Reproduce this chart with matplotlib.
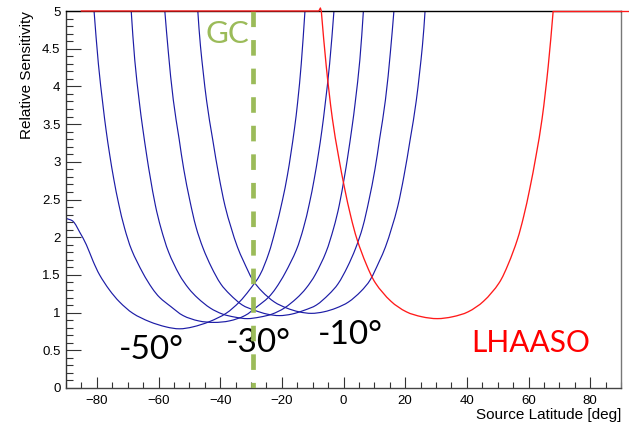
import matplotlib
matplotlib.use("Agg")
import matplotlib.pyplot as plt
import numpy as np
from matplotlib import ticker
from matplotlib.path import Path
from matplotlib.patches import PathPatch

# relative sensitivity vs source latitude, one curve per detector latitude
lat_m50_x = [-90, -87.7, -85.6, -83.4, -81.2, -79.1, -75.9, -72.6, -68.3, -62.9, -57.5, -53.2,
             -48.9, -43.5, -38.1, -33.8, -30.5, -27.1, -24.3, -22.2, -19.8, -18.2, -17.1, -15.9, -14.9, -13.7, -12.5]
lat_m50_y = [2.25, 2.21, 2.07, 1.90, 1.68, 1.50, 1.30, 1.14, 0.99, 0.88, 0.81, 0.785,
             0.81, 0.88, 0.99, 1.14, 1.30, 1.50, 1.78, 2.08, 2.49, 2.82, 3.10, 3.44, 3.78, 4.30, 5.0]

lat_m40_x = [-80.9, -79.5, -77.95, -77.0, -75.85, -74.5, -72.9, -71.0, -68.7, -65.0, -62.0, -59.6, -56.0, -52.0, -47.0,
             -42.0, -37.0, -32.0, -28.0, -24.4, -22.0, -19.0, -15.3, -13.0, -11.1, -9.5, -8.15, -7.0, -6.05, -4.5, -3.1]
lat_m40_y = [5.0, 4.30, 3.73, 3.42, 3.10, 2.77, 2.44, 2.12, 1.83, 1.52, 1.32, 1.20, 1.08, 0.96, 0.89,
             0.87, 0.89, 0.96, 1.08, 1.20, 1.32, 1.52, 1.83, 2.12, 2.44, 2.77, 3.10, 3.42, 3.73, 4.30, 5.0]

lat_m30_x = [-68.85, -67.7, -66.15, -65.2, -63.7, -62.7, -61.0, -59.2, -56.7, -53.2, -50.2, -47.2, -43.2, -39.2, -35.2,
             -31.2, -27.2, -23.2, -19.2, -15.2, -12.2, -9.2, -5.7, -3.2, -1.4, 0.3, 1.3, 2.8, 3.75, 5.3, 6.45]
lat_m30_y = [5.0, 4.35, 3.77, 3.47, 3.05, 2.80, 2.42, 2.12, 1.80, 1.50, 1.32, 1.19, 1.06, 0.98, 0.94,
             0.92, 0.94, 0.98, 1.06, 1.19, 1.32, 1.50, 1.80, 2.12, 2.42, 2.80, 3.05, 3.47, 3.77, 4.35, 5.0]

lat_m20_x = [-57.95, -56.8, -55.2, -53.3, -51.8, -49.8, -47.8, -45.5, -42.8, -39.8, -36.8, -32.8, -28.8, -24.8,
             -20.8, -16.8, -12.8, -8.8, -4.8, -1.8, 1.2, 3.9, 6.2, 8.2, 10.2, 11.7, 13.6, 15.2, 16.35]
lat_m20_y = [5.0, 4.45, 3.82, 3.30, 2.90, 2.48, 2.13, 1.85, 1.60, 1.38, 1.24, 1.10, 1.03, 0.98,
             0.96, 0.98, 1.03, 1.10, 1.24, 1.38, 1.60, 1.85, 2.13, 2.48, 2.90, 3.30, 3.82, 4.45, 5.0]

lat_m10_x = [-47.25, -46.4, -44.4, -42.4, -40.4, -38.4, -36.4, -34.4, -32.4, -29.4, -26.4, -22.4, -18.4, -14.4,
             -10.4, -6.4, -2.4, 1.6, 5.6, 8.6, 11.6, 13.6, 15.6, 17.6, 19.6, 21.6, 23.6, 25.6, 26.45]
lat_m10_y = [5.0, 4.54, 3.81, 3.29, 2.81, 2.41, 2.12, 1.87, 1.68, 1.43, 1.28, 1.14, 1.06, 1.01,
             0.99, 1.01, 1.06, 1.14, 1.28, 1.43, 1.68, 1.87, 2.12, 2.41, 2.81, 3.29, 3.81, 4.54, 5.0]

# LHAASO curve, plus the saturated parts at the top of the frame
lhaaso_x = [-7.2, -5.6, -3.6, -1.6, 0.4, 2.4, 4.4, 7.4, 10.4, 15.4, 20.4, 25.4, 30.4,
            35.4, 40.4, 45.4, 50.4, 53.4, 56.4, 58.4, 60.4, 62.4, 64.4, 66.4, 68.0]
lhaaso_y = [5.0, 4.27, 3.57, 3.07, 2.64, 2.27, 1.97, 1.64, 1.39, 1.15, 1.01, 0.945, 0.92,
            0.945, 1.01, 1.15, 1.39, 1.64, 1.97, 2.27, 2.64, 3.07, 3.57, 4.27, 5.0]
lhaaso_flat_left_x = [-85, -8.0, -7.5, -7.2]
lhaaso_flat_left_y = [5.0, 5.0, 5.04, 5.0]
lhaaso_flat_right_x = [68.0, 92.3]
lhaaso_flat_right_y = [5.0, 5.0]

gc_lat = -29.2

blue_curves = [(lat_m50_x, lat_m50_y), (lat_m40_x, lat_m40_y), (lat_m30_x, lat_m30_y),
               (lat_m20_x, lat_m20_y), (lat_m10_x, lat_m10_y)]


def smooth_path(xs, ys):
    # bezier path through the points, tangents from chord length (in pixel-ish units)
    p = np.column_stack([xs, ys]).astype(float)
    d = np.hypot(np.diff(p[:, 0]) * 3.085, np.diff(p[:, 1]) * 75.4)
    t = np.concatenate([[0], np.cumsum(d)])
    n = len(p)
    m = np.zeros_like(p)
    m[0] = (p[1] - p[0]) / (t[1] - t[0])
    m[-1] = (p[-1] - p[-2]) / (t[-1] - t[-2])
    for i in range(1, n - 1):
        m[i] = (p[i + 1] - p[i - 1]) / (t[i + 1] - t[i - 1])
    verts = [p[0]]
    codes = [Path.MOVETO]
    for i in range(n - 1):
        h = t[i + 1] - t[i]
        verts += [p[i] + m[i] * h / 3, p[i + 1] - m[i + 1] * h / 3, p[i + 1]]
        codes += [Path.CURVE4] * 3
    return Path(verts, codes)


fig = plt.figure(figsize=(6.29, 4.26), dpi=100)
ax = fig.add_axes([66 / 629, 38 / 426, 555 / 629, 377 / 426])

for xs, ys in blue_curves:
    ax.add_patch(PathPatch(smooth_path(xs, ys), fill=False, edgecolor='#1c1ca6', lw=0.85))
ax.add_patch(PathPatch(smooth_path(lhaaso_x, lhaaso_y), fill=False, edgecolor='#ff1a1a',
                       lw=0.95, zorder=5))
ax.plot(lhaaso_flat_left_x, lhaaso_flat_left_y, color='#ff1a1a', lw=0.95, clip_on=False, zorder=5)
ax.plot(lhaaso_flat_right_x, lhaaso_flat_right_y, color='#ff1a1a', lw=0.95, clip_on=False, zorder=5)

ax.plot([gc_lat, gc_lat], [5, 0], color='#9bbb59', lw=3.4, dashes=(3.3, 2.75), zorder=4)

big = dict(family=['Lato', 'DejaVu Sans'])
ax.text(-44.6, 4.58, 'GC', color='#9bbb59', fontsize=22.5, **big)
ax.text(-73.0, 0.38, '-50°', color='black', fontsize=24, **big)
ax.text(-38.2, 0.48, '-30°', color='black', fontsize=24, **big)
ax.text(-8.2, 0.58, '-10°', color='black', fontsize=24, **big)
ax.text(41.3, 0.48, 'LHAASO', color='red', fontsize=21.5, **big)

ax.set_xlim(-90, 90)
ax.set_ylim(0, 5)
ax.xaxis.set_major_locator(ticker.MultipleLocator(20))
ax.xaxis.set_minor_locator(ticker.MultipleLocator(5))
ax.yaxis.set_major_locator(ticker.MultipleLocator(0.5))
ax.yaxis.set_minor_locator(ticker.MultipleLocator(0.1))
ax.yaxis.set_major_formatter(ticker.FormatStrFormatter('%g'))

tick_font = 'Liberation Sans'
ax.tick_params(axis='x', which='major', direction='in', length=8, width=0.8, color='#333',
               pad=5, labelsize=9.5)
ax.tick_params(axis='x', which='minor', direction='in', length=4, width=0.8, color='#333')
ax.tick_params(axis='y', which='major', direction='in', length=11, width=0.8, color='#333',
               pad=4, labelsize=9.5)
ax.tick_params(axis='y', which='minor', direction='in', length=5, width=0.8, color='#333')
for lab in ax.get_xticklabels() + ax.get_yticklabels():
    lab.set_family(tick_font)

for side, col in [('left', '#333'), ('bottom', '#444'), ('top', 'black'), ('right', '#777')]:
    ax.spines[side].set_color(col)
    ax.spines[side].set_linewidth(1.0)

ax.set_xlabel('Source Latitude [deg]', loc='right', fontsize=11, family=tick_font)
ax.xaxis.set_label_coords(1.0, -0.054)
ax.set_ylabel('Relative Sensitivity', loc='top', fontsize=11, family=tick_font)
ax.yaxis.set_label_coords(-0.058, 1.0)

fig.savefig('out.png', dpi=100)
